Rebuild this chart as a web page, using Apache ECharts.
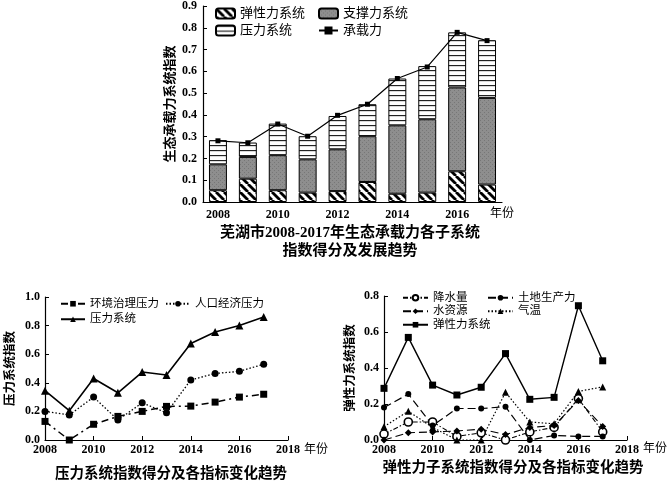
<!DOCTYPE html>
<html>
<head>
<meta charset="utf-8">
<script src="https://cdn.jsdelivr.net/npm/echarts@6/dist/echarts.min.js"></script>
<style>
body{margin:0;background:#fff;}
.c{position:absolute;left:0;top:0;width:669px;height:481px;}
</style>
</head>
<body>
<div id="topChart" class="c"></div>
<div id="leftChart" class="c"></div>
<div id="rightChart" class="c"></div>
<script>
// 上图：芜湖市2008-2017年生态承载力各子系统（堆叠段的值）
var years = ['2008','2009','2010','2011','2012','2013','2014','2015','2016','2017'];
var tanxing  = [0.054,0.107,0.054,0.043,0.050,0.092,0.038,0.043,0.141,0.080];
var zhicheng = [0.119,0.100,0.161,0.153,0.192,0.210,0.314,0.337,0.385,0.398];
var yali     = [0.111,0.066,0.145,0.106,0.153,0.147,0.215,0.244,0.253,0.265];
var chengzai = [0.281,0.272,0.358,0.302,0.398,0.449,0.567,0.620,0.779,0.741];

// 左下：压力系统
var yearNums   = [2008,2009,2010,2011,2012,2013,2014,2015,2016,2017];
var huanjing   = [0.13,0.00,0.11,0.165,0.20,0.235,0.237,0.265,0.30,0.32];
var renkou     = [0.20,0.175,0.30,0.14,0.26,0.19,0.42,0.465,0.48,0.53];
var yaliXitong = [0.345,0.205,0.43,0.33,0.475,0.455,0.675,0.755,0.80,0.86];

// 右下：弹性力子系统
var jiangshui     = [0.033,0.10,0.10,0.02,0.04,0.0,0.045,0.07,0.23,0.045];
var tudi          = [0.18,0.255,0.08,0.175,0.175,0.185,0.0,0.025,0.02,0.02];
var shuiziyuan    = [0.0,0.04,0.045,0.05,0.06,0.03,0.07,0.08,0.22,0.075];
var qiwen         = [0.074,0.16,0.07,0.0,0.0,0.265,0.10,0.09,0.27,0.295];
var tanxingXitong = [0.287,0.57,0.305,0.25,0.293,0.48,0.226,0.237,0.746,0.44];

var numFont = '"Liberation Serif","DejaVu Serif","Noto Sans CJK SC",serif';
var cnFont = '"Liberation Serif","Noto Sans CJK SC",sans-serif';

// 图案填充
function makePattern(w, h, draw) {
  var cv = document.createElement('canvas');
  cv.width = w; cv.height = h;
  draw(cv.getContext('2d'));
  return {image: cv, repeat: 'repeat'};
}
var hatch = makePattern(8, 8, function (ctx) {
  ctx.fillStyle = '#fff'; ctx.fillRect(0, 0, 8, 8);
  ctx.strokeStyle = '#000'; ctx.lineWidth = 2.8;
  for (var k = -8; k <= 8; k += 8) {
    ctx.beginPath(); ctx.moveTo(k, 0); ctx.lineTo(k + 8, 8); ctx.stroke();
  }
});
var stripes = makePattern(4, 5, function (ctx) {
  ctx.fillStyle = '#fff'; ctx.fillRect(0, 0, 4, 5);
  ctx.fillStyle = '#222'; ctx.fillRect(0, 0, 4, 1.2);
  ctx.fillStyle = '#ddd'; ctx.fillRect(0, 1.2, 4, 0.8);
});
var grayDots = makePattern(4, 4, function (ctx) {
  ctx.fillStyle = '#8e8e8e'; ctx.fillRect(0, 0, 4, 4);
  ctx.fillStyle = '#777'; ctx.fillRect(0, 0, 1, 1); ctx.fillRect(2, 2, 1, 1);
});

function fix1(v) { return (Math.round(v * 10) / 10).toFixed(1); }
function pairs(arr) { return yearNums.map(function (y, i) { return [y, arr[i]]; }); }

// ---------- 上图 ----------
var topChart = echarts.init(document.getElementById('topChart'));
var barBase = {type: 'bar', stack: 'total', barWidth: '60%'};
topChart.setOption({
  animation: false,
  title: {
    text: '芜湖市2008-2017年生态承载力各子系统\n指数得分及发展趋势',
    left: 345, top: 219, textAlign: 'center',
    textStyle: {fontFamily: cnFont, fontSize: 15, fontWeight: 'bold', color: '#000', lineHeight: 18}
  },
  legend: [
    {data: ['弹性力系统', '压力系统'], orient: 'vertical', left: 215, top: 7, padding: 0, itemWidth: 19, itemHeight: 10, itemGap: 4,
     textStyle: {fontFamily: cnFont, fontSize: 13, color: '#000'}},
    {data: ['支撑力系统', '承载力'], orient: 'vertical', left: 318, top: 7, padding: 0, itemWidth: 19, itemHeight: 10, itemGap: 4,
     textStyle: {fontFamily: cnFont, fontSize: 13, color: '#000'}}
  ],
  grid: {left: 203, right: 167, top: 6, bottom: 279},
  xAxis: {
    type: 'category', data: years,
    name: '年份', nameLocation: 'end', nameGap: -12,
    nameTextStyle: {fontFamily: cnFont, fontSize: 12, color: '#000', verticalAlign: 'top', padding: [6, 0, 0, 0]},
    axisLine: {lineStyle: {color: '#000', width: 1.2}},
    axisTick: {show: false},
    axisLabel: {interval: 1, margin: 7, fontFamily: numFont, fontSize: 12, fontWeight: 'bold', color: '#000'}
  },
  yAxis: {
    type: 'value', min: 0, max: 0.9, interval: 0.1,
    name: '生态承载力系统指数', nameLocation: 'middle', nameGap: 26,
    nameTextStyle: {fontFamily: cnFont, fontSize: 13, fontWeight: 'bold', color: '#000'},
    axisLine: {show: true, lineStyle: {color: '#000', width: 1.2}},
    axisTick: {show: true, inside: true, length: 4, lineStyle: {color: '#000'}},
    axisLabel: {formatter: fix1, margin: 6, fontFamily: numFont, fontSize: 12, fontWeight: 'bold', color: '#000'},
    splitLine: {show: false}
  },
  series: [
    Object.assign({name: '弹性力系统', data: tanxing, itemStyle: {color: hatch, borderColor: '#000', borderWidth: 1}}, barBase),
    Object.assign({name: '支撑力系统', data: zhicheng, itemStyle: {color: grayDots, borderColor: '#000', borderWidth: 1}}, barBase),
    Object.assign({name: '压力系统', data: yali, itemStyle: {color: stripes, borderColor: '#000', borderWidth: 1}}, barBase),
    {name: '承载力', type: 'line', data: chengzai, symbol: 'rect', symbolSize: 5,
     lineStyle: {color: '#000', width: 1.2}, itemStyle: {color: '#000'}}
  ]
});

// ---------- 左下：压力系统 ----------
var leftChart = echarts.init(document.getElementById('leftChart'));
leftChart.setOption({
  animation: false,
  title: {
    text: '压力系统指数得分及各指标变化趋势', left: 166, top: 462, textAlign: 'center',
    textStyle: {fontFamily: cnFont, fontSize: 14.5, fontWeight: 'bold', color: '#000'}
  },
  legend: [
    {data: ['环境治理压力', '压力系统'], orient: 'vertical', left: 60, top: 298, padding: 0, itemWidth: 24, itemHeight: 7, itemGap: 4,
     textStyle: {fontFamily: cnFont, fontSize: 11.5, color: '#000'}},
    {data: ['人口经济压力'], orient: 'vertical', left: 165, top: 298, padding: 0, itemWidth: 24, itemHeight: 7,
     textStyle: {fontFamily: cnFont, fontSize: 11.5, color: '#000'}}
  ],
  grid: {left: 45, right: 381, top: 297, bottom: 41},
  xAxis: {
    type: 'value', min: 2008, max: 2018, interval: 2,
    name: '年份', nameLocation: 'end', nameGap: 14,
    nameTextStyle: {fontFamily: cnFont, fontSize: 12, color: '#000', verticalAlign: 'top', padding: [4, 0, 0, 0]},
    axisLine: {lineStyle: {color: '#000', width: 1.2}},
    axisTick: {inside: true, length: 4, lineStyle: {color: '#000'}},
    axisLabel: {formatter: function (v) { return String(v); }, margin: 4, fontFamily: numFont, fontSize: 12, fontWeight: 'bold', color: '#000'},
    splitLine: {show: false}
  },
  yAxis: {
    type: 'value', min: 0, max: 1, interval: 0.2,
    name: '压力系统指数', nameLocation: 'middle', nameGap: 28,
    nameTextStyle: {fontFamily: cnFont, fontSize: 12.5, fontWeight: 'bold', color: '#000'},
    axisLine: {show: true, lineStyle: {color: '#000', width: 1.2}},
    axisTick: {show: true, inside: true, length: 4, lineStyle: {color: '#000'}},
    axisLabel: {formatter: fix1, margin: 5, fontFamily: numFont, fontSize: 12, fontWeight: 'bold', color: '#000'},
    splitLine: {show: false}
  },
  series: [
    {name: '环境治理压力', type: 'line', data: pairs(huanjing), symbol: 'rect', symbolSize: 7,
     lineStyle: {color: '#000', width: 1.5, type: [7, 4, 2, 4]}, itemStyle: {color: '#000'}},
    {name: '人口经济压力', type: 'line', data: pairs(renkou), symbol: 'circle', symbolSize: 7,
     lineStyle: {color: '#000', width: 1.3, type: [1.5, 2]}, itemStyle: {color: '#000'}},
    {name: '压力系统', type: 'line', data: pairs(yaliXitong), symbol: 'triangle', symbolSize: 8,
     lineStyle: {color: '#000', width: 1.6}, itemStyle: {color: '#000'}}
  ]
});

// ---------- 右下：弹性力子系统 ----------
var rightChart = echarts.init(document.getElementById('rightChart'));
rightChart.setOption({
  animation: false,
  title: {
    text: '弹性力子系统指数得分及各指标变化趋势', left: 508, top: 456, textAlign: 'center',
    textStyle: {fontFamily: cnFont, fontSize: 14.5, fontWeight: 'bold', color: '#000'}
  },
  legend: [
    {data: ['降水量', '水资源', '弹性力系统'], orient: 'vertical', left: 402, top: 292, padding: 0, itemWidth: 25, itemHeight: 7, itemGap: 2,
     textStyle: {fontFamily: cnFont, fontSize: 11.5, color: '#000'}},
    {data: ['土地生产力', '气温'], orient: 'vertical', left: 487, top: 292, padding: 0, itemWidth: 25, itemHeight: 7, itemGap: 2,
     textStyle: {fontFamily: cnFont, fontSize: 11.5, color: '#000'}}
  ],
  grid: {left: 384, right: 42, top: 296, bottom: 41},
  xAxis: {
    type: 'value', min: 2008, max: 2018, interval: 2,
    name: '年份', nameLocation: 'end', nameGap: 14,
    nameTextStyle: {fontFamily: cnFont, fontSize: 12, color: '#000', verticalAlign: 'top', padding: [3, 0, 0, 0]},
    axisLine: {lineStyle: {color: '#000', width: 1.2}},
    axisTick: {inside: true, length: 4, lineStyle: {color: '#000'}},
    axisLabel: {formatter: function (v) { return String(v); }, margin: 4, fontFamily: numFont, fontSize: 12, fontWeight: 'bold', color: '#000'},
    splitLine: {show: false}
  },
  yAxis: {
    type: 'value', min: 0, max: 0.8, interval: 0.2,
    name: '弹性力系统指数', nameLocation: 'middle', nameGap: 27,
    nameTextStyle: {fontFamily: cnFont, fontSize: 12.5, fontWeight: 'bold', color: '#000'},
    axisLine: {show: true, lineStyle: {color: '#000', width: 1.2}},
    axisTick: {show: true, inside: true, length: 4, lineStyle: {color: '#000'}},
    axisLabel: {formatter: fix1, margin: 5, fontFamily: numFont, fontSize: 12, fontWeight: 'bold', color: '#000'},
    splitLine: {show: false}
  },
  series: [
    {name: '降水量', type: 'line', data: pairs(jiangshui), symbol: 'circle', symbolSize: 8,
     lineStyle: {color: '#000', width: 1.1, type: [5, 2, 1.5, 2]}, itemStyle: {color: '#fff', borderColor: '#000', borderWidth: 1.6}},
    {name: '土地生产力', type: 'line', data: pairs(tudi), symbol: 'circle', symbolSize: 6,
     lineStyle: {color: '#000', width: 1.2, type: [8, 4]}, itemStyle: {color: '#000'}},
    {name: '水资源', type: 'line', data: pairs(shuiziyuan), symbol: 'diamond', symbolSize: 7,
     lineStyle: {color: '#000', width: 1.1, type: [8, 4]}, itemStyle: {color: '#000'}},
    {name: '气温', type: 'line', data: pairs(qiwen), symbol: 'triangle', symbolSize: 7,
     lineStyle: {color: '#000', width: 1.2, type: [1.5, 2]}, itemStyle: {color: '#000'}},
    {name: '弹性力系统', type: 'line', data: pairs(tanxingXitong), symbol: 'rect', symbolSize: 7,
     lineStyle: {color: '#000', width: 1.4}, itemStyle: {color: '#000'}}
  ]
});
</script>
</body>
</html>
